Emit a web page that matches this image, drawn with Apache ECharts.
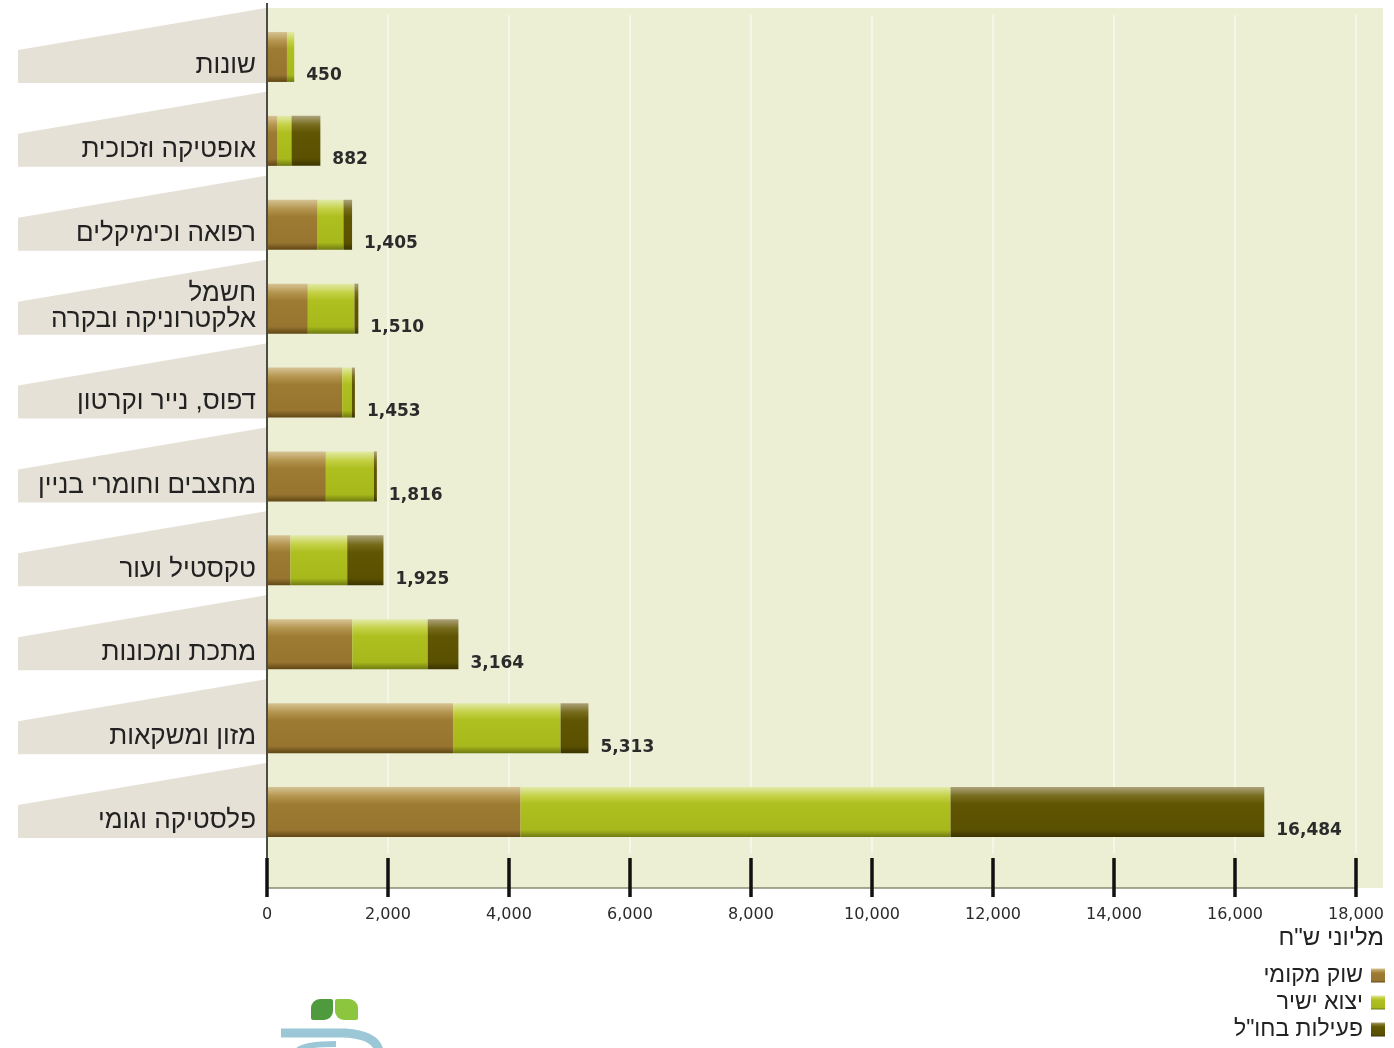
<!DOCTYPE html>
<html>
<head>
<meta charset="utf-8">
<script src="https://cdn.jsdelivr.net/npm/echarts@6/dist/echarts.min.js"></script>
<style>
  html, body { margin: 0; padding: 0; background: #ffffff; }
  #chart { width: 1394px; height: 1048px; }
</style>
</head>
<body>
<div id="chart"></div>
<script>
// ---- data (top to bottom, as in the picture) ----
const categories = ['שונות', 'אופטיקה וזכוכית', 'רפואה וכימיקלים', 'חשמל\nאלקטרוניקה ובקרה', 'דפוס, נייר וקרטון', 'מחצבים וחומרי בניין', 'טקסטיל ועור', 'מתכת ומכונות', 'מזון ומשקאות', 'פלסטיקה וגומי'];
const localMarket = [330, 165, 837, 675, 1243, 973, 388, 1410, 3076, 4191];
const directExport = [120, 240, 427, 771, 160, 794, 938, 1246, 1776, 7107];
const activityAbroad = [0, 477, 142, 64, 50, 49, 599, 508, 461, 5186];
const totals = [450, 882, 1405, 1510, 1453, 1816, 1925, 3164, 5313, 16484];
const seriesNames = ['שוק מקומי', 'יצוא ישיר', 'פעילות בחו"ל'];
const axisTicks = [0, 2000, 4000, 6000, 8000, 10000, 12000, 14000, 16000, 18000];
const unitLabel = 'מליוני ש"ח';

const HEB = '"Liberation Sans", "DejaVu Sans", sans-serif';
const NUM = '"DejaVu Sans", sans-serif';

function grad(light, midLight, mid, mid2, dark) {
  return new echarts.graphic.LinearGradient(0, 0, 0, 1, [
    { offset: 0, color: light },
    { offset: 0.18, color: midLight },
    { offset: 0.34, color: mid },
    { offset: 0.86, color: mid2 },
    { offset: 1, color: dark }
  ]);
}
const colBrown = grad('#d6c394', '#b59650', '#9d7b32', '#977530', '#5f4614');
const colGreen = grad('#e2eaa8', '#c4d146', '#aebf1f', '#a7b81c', '#6f7a10');
const colDark = grad('#ada27a', '#766c1c', '#5f5502', '#5a5000', '#3a3300');

const chart = echarts.init(document.getElementById('chart'), null, { renderer: 'canvas' });

const option = {
  animation: false,
  backgroundColor: '#ffffff',
  title: {
    text: unitLabel,
    right: 10,
    top: 926,
    padding: 0,
    textStyle: { fontFamily: HEB, fontSize: 24, fontWeight: 'normal', color: '#222' }
  },
  legend: {
    orient: 'vertical',
    right: 9,
    top: 964,
    height: 90,
    align: 'right',
    icon: 'rect',
    itemWidth: 14,
    itemHeight: 14,
    itemGap: 4,
    padding: 0,
    data: seriesNames,
    textStyle: { fontFamily: HEB, fontSize: 23, lineHeight: 22, color: '#222', padding: [0, 3, 0, 0] }
  },
  grid: { left: 267, right: 38, top: 15, bottom: 194, containLabel: false },
  xAxis: [
    {
      type: 'value', min: 0, max: 18000, interval: 2000,
      position: 'bottom', offset: 34,
      axisLine: { show: true, lineStyle: { color: '#8c8c74', width: 1.5 } },
      axisTick: { show: false },
      axisLabel: { show: false },
      splitLine: { show: true, lineStyle: { color: 'rgba(255,255,255,0.45)', width: 2 } }
    },
    {
      type: 'value', min: 0, max: 18000, interval: 2000,
      position: 'bottom', offset: 43, z: 60,
      axisLine: { show: false },
      axisTick: { show: true, inside: true, length: 39, lineStyle: { color: '#111', width: 3.5 } },
      axisLabel: {
        show: true, margin: 10,
        fontFamily: NUM, fontSize: 16, color: '#2a2a2a',
        formatter: v => axisTicks.indexOf(v) >= 0 ? v.toLocaleString('en-US') : ''
      },
      splitLine: { show: false }
    }
  ],
  yAxis: {
    type: 'category',
    inverse: true,
    z: 5,
    data: categories,
    axisLine: { show: false },
    axisTick: { show: false },
    axisLabel: {
      margin: 11, align: 'right',
      formatter: function (v) {
        if (v.indexOf('\n') >= 0) {
          const parts = v.split('\n');
          return '{b|' + parts[0] + '}\n{c|' + parts[1] + '}';
        }
        return '{a|' + v + '}';
      },
      rich: {
        a: { fontFamily: HEB, fontSize: 26, color: '#222', lineHeight: 30, padding: [18, 0, 0, 0], align: 'right' },
        b: { fontFamily: HEB, fontSize: 26, color: '#222', lineHeight: 30, align: 'right' },
        c: { fontFamily: HEB, fontSize: 26, color: '#222', lineHeight: 30, padding: [0, 0, 8, 0], align: 'right' }
      }
    }
  },
  graphic: [
    {
      type: 'rect', silent: true, z: -10,
      shape: { x: 267, y: 8, width: 1116, height: 880 },
      style: { fill: '#ecefd3' }
    },
    {
      type: 'line', silent: true, z: 50,
      shape: { x1: 267, y1: 3, x2: 267, y2: 890 },
      style: { stroke: '#4c4c44', lineWidth: 2 }
    },
    // logo (decoration)
    {
      type: 'rect', silent: true,
      shape: { x: 311, y: 999, width: 22, height: 21, r: [9, 2, 9, 2] },
      style: { fill: '#4f9a3c' }
    },
    {
      type: 'rect', silent: true,
      shape: { x: 335, y: 999, width: 23, height: 21, r: [2, 9, 2, 9] },
      style: { fill: '#8cc63f' }
    },
    {
      type: 'line', silent: true,
      shape: { x1: 281, y1: 1033, x2: 346, y2: 1033 },
      style: { stroke: '#9cc7d6', lineWidth: 9 }
    },
    {
      type: 'bezierCurve', silent: true,
      shape: { x1: 345, y1: 1033, cpx1: 377, cpy1: 1035, x2: 379, y2: 1052 },
      style: { fill: null, stroke: '#9cc7d6', lineWidth: 9 }
    },
    {
      type: 'bezierCurve', silent: true,
      shape: { x1: 297, y1: 1052, cpx1: 300, cpy1: 1044, x2: 336, y2: 1044 },
      style: { fill: null, stroke: '#9cc7d6', lineWidth: 6 }
    }
  ],
  series: [
    {
      type: 'custom',
      name: 'tabs',
      clip: false,
      silent: true,
      z: 0,
      xAxisIndex: 0,
      data: categories.map((c, i) => [0, i]),
      encode: { x: 0, y: 1 },
      renderItem: function (params, api) {
        const p = api.coord([0, api.value(1)]);
        const x0 = p[0] - 1, cy = p[1];
        return {
          type: 'polygon',
          shape: { points: [[18, cy - 7], [x0, cy - 49], [x0, cy + 26], [18, cy + 26]] },
          style: { fill: '#e6e1d7' }
        };
      }
    },
    {
      name: seriesNames[0], type: 'bar', stack: 'total', xAxisIndex: 0,
      barWidth: 50, z: 3,
      itemStyle: { color: colBrown },
      data: localMarket
    },
    {
      name: seriesNames[1], type: 'bar', stack: 'total', xAxisIndex: 0,
      barWidth: 50, z: 3,
      itemStyle: { color: colGreen },
      data: directExport
    },
    {
      name: seriesNames[2], type: 'bar', stack: 'total', xAxisIndex: 0,
      barWidth: 50, z: 3,
      itemStyle: { color: colDark },
      label: {
        show: true, position: 'right', distance: 12, offset: [0, 19],
        fontFamily: NUM, fontSize: 17, fontWeight: 'bold', color: '#2b2b2b',
        formatter: p => totals[p.dataIndex].toLocaleString('en-US')
      },
      data: activityAbroad
    }
  ]
};

chart.setOption(option);
</script>
</body>
</html>
